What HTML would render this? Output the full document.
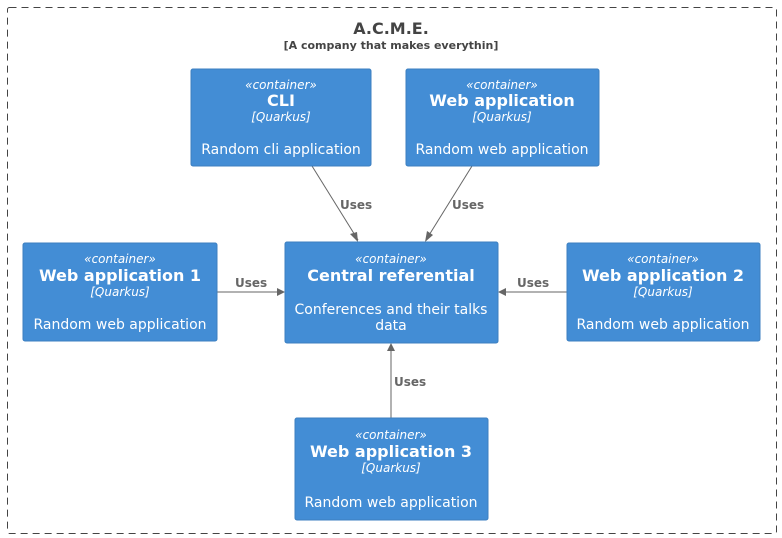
<!DOCTYPE html>
<html><head><style>body{margin:0;background:#fff}svg{display:block}</style></head><body>
<svg width="782" height="538" viewBox="0 0 782 538" xmlns="http://www.w3.org/2000/svg" font-family="DejaVu Sans, sans-serif">
<rect x="7.5" y="7.5" width="769" height="526" fill="none" stroke="#444" stroke-dasharray="7,5" rx="2"/>
<text x="391" y="34" text-anchor="middle" font-size="16" font-weight="bold" fill="#444">A.C.M.E.</text>
<text x="391" y="49" text-anchor="middle" font-size="11" font-weight="bold" fill="#444">[A company that makes everythin]</text>
<g stroke="#666" stroke-width="1" fill="none">
<path d="M312 166 L358 240"/><path d="M472 166 L426 240"/>
<path d="M217 292 L283 292"/><path d="M567 292 L500 292"/>
<path d="M391 418 L391 345"/>
</g>
<g fill="#666">
<polygon points="358,242 350,234 357,232"/>
<polygon points="425,242 427,231 433,235"/>
<polygon points="285,292 277,288 277,296"/>
<polygon points="498,292 506,288 506,296"/>
<polygon points="391,343 387,351 395,351"/>
</g>
<g font-size="12" font-weight="bold" fill="#666">
<text x="340" y="209">Uses</text><text x="452" y="209">Uses</text>
<text x="235" y="287">Uses</text><text x="517" y="287">Uses</text>
<text x="394" y="386">Uses</text>
</g>
<g fill="#438DD5" stroke="#3C7FC0">
<rect x="191" y="69" width="180" height="97" rx="2"/>
<rect x="406" y="69" width="193" height="97" rx="2"/>
<rect x="23" y="243" width="194" height="98" rx="2"/>
<rect x="285" y="242" width="213" height="101" rx="2"/>
<rect x="567" y="243" width="193" height="98" rx="2"/>
<rect x="295" y="418" width="193" height="102" rx="2"/>
</g>
<g fill="#fff" text-anchor="middle">
<text x="281" y="89" font-size="12" font-style="italic">«container»</text>
<text x="281" y="106" font-size="16" font-weight="bold">CLI</text>
<text x="281" y="121" font-size="12" font-style="italic">[Quarkus]</text>
<text x="281" y="154" font-size="14">Random cli application</text>

<text x="502" y="89" font-size="12" font-style="italic">«container»</text>
<text x="502" y="106" font-size="16" font-weight="bold">Web application</text>
<text x="502" y="121" font-size="12" font-style="italic">[Quarkus]</text>
<text x="502" y="154" font-size="14">Random web application</text>

<text x="120" y="263" font-size="12" font-style="italic">«container»</text>
<text x="120" y="281" font-size="16" font-weight="bold">Web application 1</text>
<text x="120" y="296" font-size="12" font-style="italic">[Quarkus]</text>
<text x="120" y="329" font-size="14">Random web application</text>

<text x="391" y="263" font-size="12" font-style="italic">«container»</text>
<text x="391" y="281" font-size="16" font-weight="bold">Central referential</text>
<text x="391" y="314" font-size="14">Conferences and their talks</text>
<text x="391" y="330" font-size="14">data</text>

<text x="663" y="263" font-size="12" font-style="italic">«container»</text>
<text x="663" y="281" font-size="16" font-weight="bold">Web application 2</text>
<text x="663" y="296" font-size="12" font-style="italic">[Quarkus]</text>
<text x="663" y="329" font-size="14">Random web application</text>

<text x="391" y="439" font-size="12" font-style="italic">«container»</text>
<text x="391" y="457" font-size="16" font-weight="bold">Web application 3</text>
<text x="391" y="472" font-size="12" font-style="italic">[Quarkus]</text>
<text x="391" y="507" font-size="14">Random web application</text>
</g>
</svg>
</body></html>
